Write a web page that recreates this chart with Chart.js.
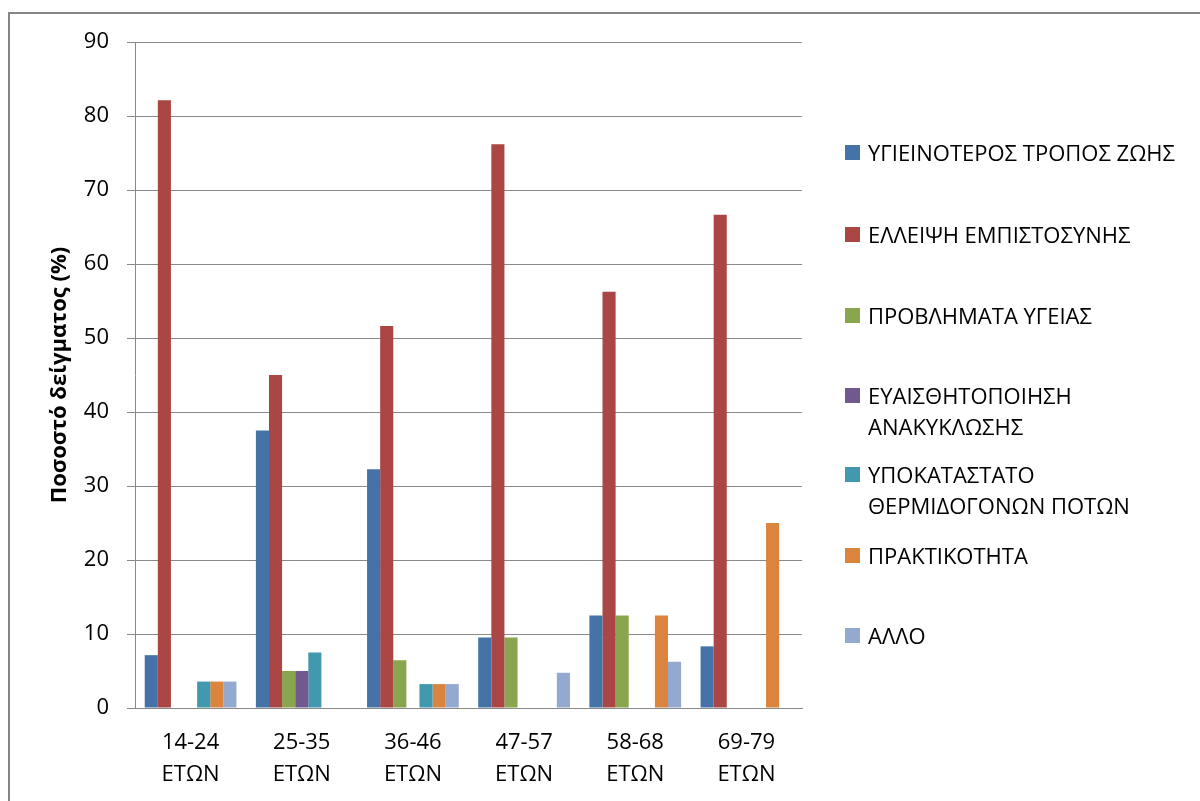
<!DOCTYPE html>
<html lang="el">
<head>
<meta charset="utf-8">
<title>Ποσοστό δείγματος ανά ηλικιακή ομάδα</title>
<script src="https://cdn.jsdelivr.net/npm/chart.js@4.4.1/dist/chart.umd.min.js"></script>
<style>
  html, body { margin: 0; padding: 0; background: #ffffff; }
  #wrap { position: relative; width: 1200px; height: 801px; overflow: hidden; font-family: "Open Sans", sans-serif; }
  #frame { position: absolute; left: 8px; top: 12px; width: 1300px; height: 900px;
           border-top: 2px solid #868686; border-left: 2px solid #868686; box-sizing: border-box; }
  #chart { position: absolute; left: 0; top: 0; }
  #legend { position: absolute; left: 0; top: 0; }
  .item { position: absolute; left: 845px; }
  .swatch { position: absolute; left: 0; top: 0; width: 15px; height: 15px; }
  .label { position: absolute; left: 23px; top: -8px; white-space: nowrap;
           font-size: 22px; line-height: 31px; color: #000; }
</style>
</head>
<body>
<div id="wrap">
  <div id="frame"></div>
  <canvas id="chart" width="1200" height="801"></canvas>
  <div id="legend"></div>
</div>
<script>
// Age groups (two-line axis labels)
const categories = [
  ['14-24', 'ΕΤΩΝ'],
  ['25-35', 'ΕΤΩΝ'],
  ['36-46', 'ΕΤΩΝ'],
  ['47-57', 'ΕΤΩΝ'],
  ['58-68', 'ΕΤΩΝ'],
  ['69-79', 'ΕΤΩΝ']
];

// Series labels (legend text, possibly split over two lines)
const seriesNames = [
  ['ΥΓΙΕΙΝΟΤΕΡΟΣ ΤΡΟΠΟΣ ΖΩΗΣ'],
  ['ΕΛΛΕΙΨΗ ΕΜΠΙΣΤΟΣΥΝΗΣ'],
  ['ΠΡΟΒΛΗΜΑΤΑ ΥΓΕΙΑΣ'],
  ['ΕΥΑΙΣΘΗΤΟΠΟΙΗΣΗ', 'ΑΝΑΚΥΚΛΩΣΗΣ'],
  ['ΥΠΟΚΑΤΑΣΤΑΤΟ', 'ΘΕΡΜΙΔΟΓΟΝΩΝ ΠΟΤΩΝ'],
  ['ΠΡΑΚΤΙΚΟΤΗΤΑ'],
  ['ΑΛΛΟ']
];

// Percentages per age group
const ygieinoterosTroposZois = [7.14, 37.5, 32.26, 9.52, 12.5, 8.33];
const elleipsiEmpistosynis   = [82.14, 45, 51.61, 76.19, 56.25, 66.67];
const provlimataYgeias       = [0, 5, 6.45, 9.52, 12.5, 0];
const euaisthitopoiisi       = [0, 5, 0, 0, 0, 0];
const ypokatastato           = [3.57, 7.5, 3.23, 0, 0, 0];
const praktikotita           = [3.57, 0, 3.23, 0, 12.5, 25];
const allo                   = [3.57, 0, 3.23, 4.76, 6.25, 0];

// Y axis ticks
const yTicks = [0, 10, 20, 30, 40, 50, 60, 70, 80, 90];

const yTitle = 'Ποσοστό δείγματος (%)';

const seriesValues = [
  ygieinoterosTroposZois, elleipsiEmpistosynis, provlimataYgeias,
  euaisthitopoiisi, ypokatastato, praktikotita, allo
];
const seriesColors = ['#4572A7', '#AA4643', '#89A54E', '#71588F', '#4198AF', '#DB843D', '#93A9CF'];

const FONT = '"Open Sans", sans-serif';
const GRID = '#898989';

const chart = new Chart(document.getElementById('chart'), {
  type: 'bar',
  data: {
    labels: categories,
    datasets: seriesValues.map((vals, i) => ({
      label: seriesNames[i].join(' '),
      data: vals,
      backgroundColor: seriesColors[i],
      borderWidth: 0,
      categoryPercentage: 0.825,
      barPercentage: 1.0
    }))
  },
  options: {
    responsive: false,
    animation: false,
    devicePixelRatio: 1,
    layout: { padding: { top: 42, left: 44, right: 398, bottom: 0 } },
    plugins: {
      legend: { display: false },
      tooltip: { enabled: false }
    },
    scales: {
      x: {
        grid: { display: false, drawTicks: false },
        border: { display: true, color: GRID, width: 1 },
        ticks: {
          color: '#000',
          font: { family: FONT, size: 22, lineHeight: 1.45 },
          padding: 19,
          maxRotation: 0,
          autoSkip: false
        },
        afterFit(scale) { scale.height = 93; }
      },
      y: {
        min: 0,
        max: 90,
        afterBuildTicks(scale) { scale.ticks = yTicks.map(v => ({ value: v })); },
        grid: { color: GRID, lineWidth: 1, tickLength: 8, drawTicks: true },
        border: { display: true, color: GRID, width: 1 },
        ticks: {
          color: '#000',
          font: { family: FONT, size: 22 },
          padding: 18
        },
        title: {
          display: true,
          text: yTitle,
          color: '#000',
          font: { family: FONT, size: 22, weight: 'bold' },
          padding: { top: 3, bottom: 3 }
        },
        afterFit(scale) { scale.width = 91; }
      }
    }
  }
});

// Legend on the right, built from the series names and colours
const legendTops = [145, 227, 308, 388, 467, 548, 628];
const legend = document.getElementById('legend');
seriesNames.forEach((lines, i) => {
  const item = document.createElement('div');
  item.className = 'item';
  item.style.top = legendTops[i] + 'px';
  const sw = document.createElement('div');
  sw.className = 'swatch';
  sw.style.background = seriesColors[i];
  const lab = document.createElement('div');
  lab.className = 'label';
  lab.innerHTML = lines.map(t => t.replace(/&/g, '&amp;').replace(/</g, '&lt;')).join('<br>');
  item.appendChild(sw);
  item.appendChild(lab);
  legend.appendChild(item);
});
</script>
</body>
</html>
